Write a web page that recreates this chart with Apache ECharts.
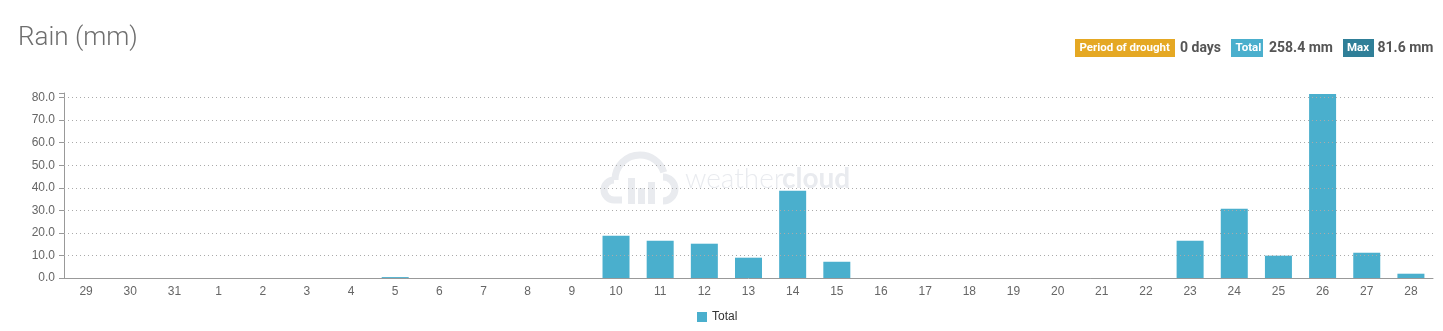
<!DOCTYPE html>
<html>
<head>
<meta charset="utf-8">
<script src="https://cdn.jsdelivr.net/npm/echarts@6/dist/echarts.min.js"></script>
<style>
html,body{margin:0;padding:0;background:#fff;}
#chart{width:1443px;height:331px;}
</style>
</head>
<body>
<div id="chart"></div>
<script>
// ---- data ----
const categories = ['29','30','31','1','2','3','4','5','6','7','8','9','10','11','12','13','14','15','16','17','18','19','20','21','22','23','24','25','26','27','28'];
const rainValues = [0,0,0,0,0,0,0,0.4,0,0,0,0,18.7,16.5,15.2,9.0,38.7,7.2,0,0,0,0,0,0,0,16.5,30.7,9.9,81.6,11.2,1.9];
const yTicks = [0,10,20,30,40,50,60,70,80];
const yMax = 82;
const seriesName = 'Total';
const titleText = 'Rain (mm)';
const badgeDrought = {label:'Period of drought', value:'0 days'};
const badgeTotal = {label:'Total', value:'258.4 mm'};
const badgeMax = {label:'Max', value:'81.6 mm'};
const watermarkA = 'weather';
const watermarkB = 'cloud';

const chart = echarts.init(document.getElementById('chart'));
const axisFont = '"Liberation Sans", Arial, sans-serif';
const badgeFont = 'Roboto, sans-serif';
const wm = '#e9ebef';

const option = {
  animation: false,
  grid: {left: 64, right: 10, top: 93, bottom: 53, containLabel: false},
  legend: {
    data: [seriesName], left: 692, top: 306,
    icon: 'rect', itemWidth: 10, itemHeight: 10, itemGap: 10,
    textStyle: {fontFamily: axisFont, fontSize: 12, color: '#333'}
  },
  xAxis: {
    type: 'category', data: categories, boundaryGap: true,
    axisLine: {lineStyle: {color: '#999', width: 1}},
    axisTick: {alignWithLabel: true, length: 5, lineStyle: {color: '#999'}},
    axisLabel: {fontFamily: axisFont, fontSize: 12, color: '#666', margin: 8, interval: 0},
    splitLine: {show: false}
  },
  yAxis: {
    type: 'value', min: 0, max: yMax, interval: 10,
    axisLine: {show: true, lineStyle: {color: '#999', width: 1}},
    axisTick: {show: true, length: 5, lineStyle: {color: '#999'}},
    axisLabel: {
      fontFamily: axisFont, fontSize: 12, color: '#666', margin: 9,
      formatter: v => (yTicks.indexOf(v) >= 0 ? v.toFixed(1) : '')
    },
    splitLine: {show: false}
  },
  graphic: [
    {type: 'text', x: 18, y: 38, z: 10,
     style: {text: titleText, font: '300 26px Roboto, sans-serif', fill: '#6e6e6e', verticalAlign: 'middle'}},
    // badges
    {type: 'rect', shape: {x: 1075, y: 39, width: 100, height: 18}, style: {fill: '#E5A823'}},
    {type: 'text', x: 1079.5, y: 48, style: {text: badgeDrought.label, font: 'bold 11.5px ' + badgeFont, fill: '#fff', verticalAlign: 'middle'}},
    {type: 'text', x: 1180, y: 48, style: {text: badgeDrought.value, font: 'bold 14px ' + badgeFont, fill: '#555', verticalAlign: 'middle'}},
    {type: 'rect', shape: {x: 1231, y: 39, width: 32, height: 18}, style: {fill: '#4AAFCD'}},
    {type: 'text', x: 1235.5, y: 48, style: {text: badgeTotal.label, font: 'bold 11.5px ' + badgeFont, fill: '#fff', verticalAlign: 'middle'}},
    {type: 'text', x: 1269, y: 48, style: {text: badgeTotal.value, font: 'bold 14px ' + badgeFont, fill: '#555', verticalAlign: 'middle'}},
    {type: 'rect', shape: {x: 1343, y: 39, width: 31, height: 18}, style: {fill: '#2F7F98'}},
    {type: 'text', x: 1347, y: 48, style: {text: badgeMax.label, font: 'bold 11.5px ' + badgeFont, fill: '#fff', verticalAlign: 'middle'}},
    {type: 'text', x: 1377.5, y: 48, style: {text: badgeMax.value, font: 'bold 14px ' + badgeFont, fill: '#555', verticalAlign: 'middle'}},
    // watermark
    {type: 'arc', z: -10, silent: true, shape: {cx: 614, cy: 190, r: 10, startAngle: Math.PI * 0.5, endAngle: Math.PI * 1.5}, style: {stroke: wm, lineWidth: 7, fill: null}},
    {type: 'arc', z: -10, silent: true, shape: {cx: 640, cy: 180, r: 25, startAngle: Math.PI * 1.0, endAngle: Math.PI * 1.9}, style: {stroke: wm, lineWidth: 7, fill: null}},
    {type: 'arc', z: -10, silent: true, shape: {cx: 663, cy: 189, r: 12, startAngle: Math.PI * 1.5, endAngle: Math.PI * 0.5}, style: {stroke: wm, lineWidth: 7, fill: null}},
    {type: 'line', z: -10, silent: true, shape: {x1: 614, y1: 200, x2: 622, y2: 200}, style: {stroke: wm, lineWidth: 7}},
    {type: 'rect', z: -10, silent: true, shape: {x: 628, y: 178, width: 7, height: 26}, style: {fill: wm}},
    {type: 'rect', z: -10, silent: true, shape: {x: 638, y: 188, width: 7, height: 16}, style: {fill: wm}},
    {type: 'rect', z: -10, silent: true, shape: {x: 648, y: 182, width: 7, height: 22}, style: {fill: wm}},
    {type: 'text', z: -10, silent: true, x: 685, y: 179, style: {text: watermarkA, font: '300 28px Lato, sans-serif', fill: wm, verticalAlign: 'middle'}},
    {type: 'text', z: -10, silent: true, x: 782, y: 179, style: {text: watermarkB, font: 'bold 28px Lato, sans-serif', fill: wm, verticalAlign: 'middle'}}
  ],
  series: [{
    name: seriesName, type: 'bar', data: rainValues, barWidth: 27,
    itemStyle: {color: '#4AAFCD'},
    markLine: {
      silent: true, symbol: 'none', label: {show: false},
      lineStyle: {color: '#aaa', type: [1, 3], width: 1},
      data: yTicks.filter(v => v > 0).map(v => ({yAxis: v}))
    }
  }]
};
chart.setOption(option);
</script>
</body>
</html>
